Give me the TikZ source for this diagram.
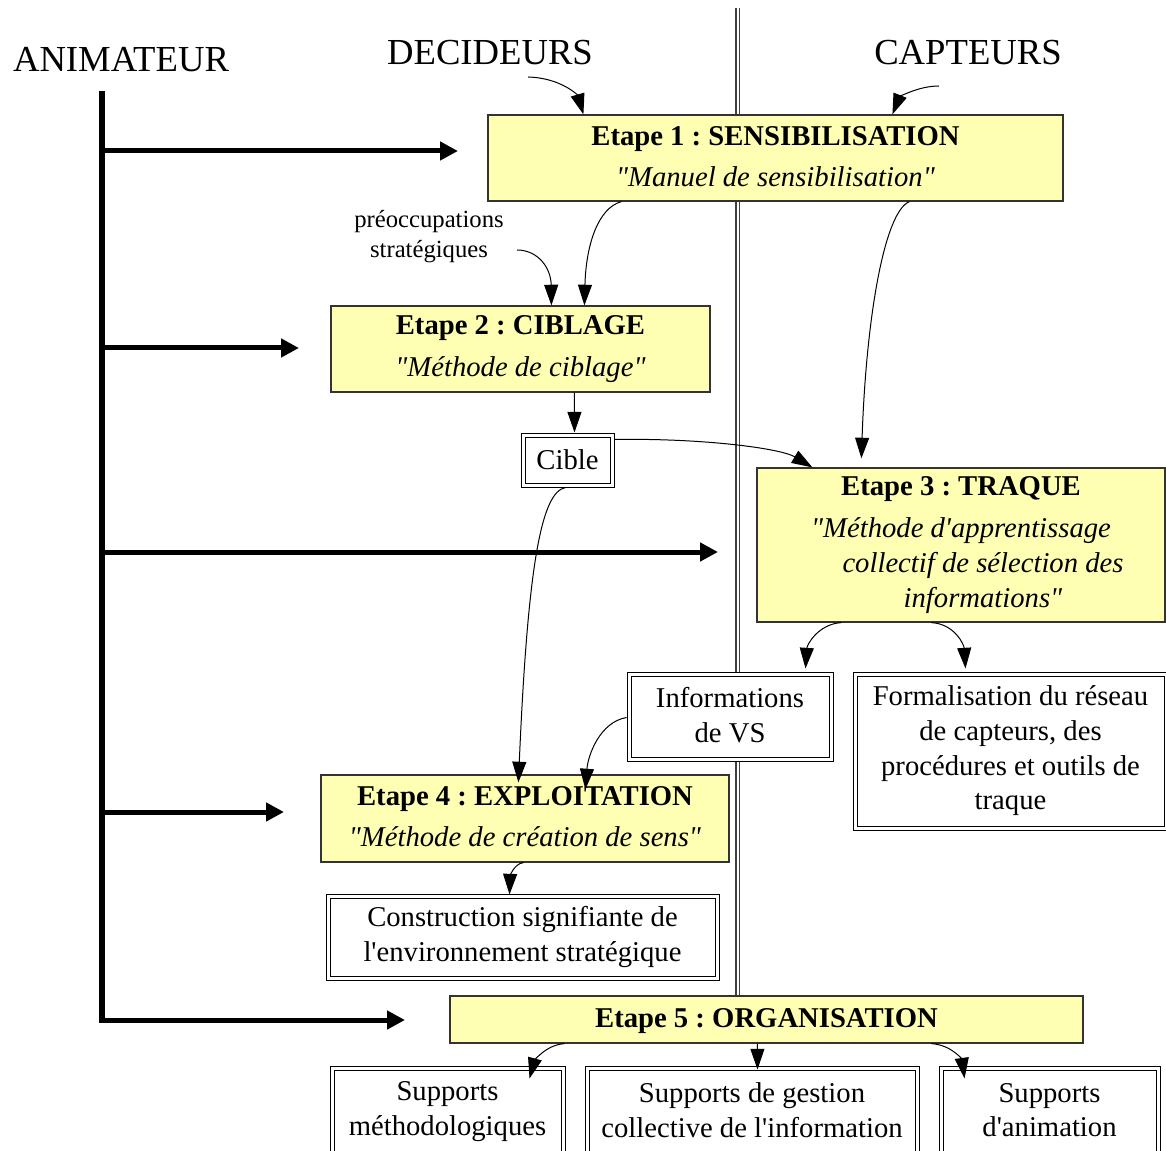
\documentclass[tikz,border=0pt]{standalone}
\usepackage{fontspec}
\setmainfont{Liberation Serif}[Ligatures=TeXOff]
\usetikzlibrary{arrows.meta,calc}
\definecolor{yfill}{RGB}{255,255,179}
\newcommand\myboxfont{\fontsize{21.5}{26}\selectfont\frenchspacing}
\newcommand\mylabfont{\fontsize{27.5}{33}\selectfont}
\newcommand\mysmallfont{\fontsize{18.5}{22.5}\selectfont}
\newcommand\mystrut{\rule[-2.5pt]{0pt}{18.5pt}}
\tikzset{
  ybox/.style={draw=black!80, line width=0.9pt, fill=yfill, inner sep=0pt, align=center, font=\myboxfont,
    execute at begin node={\mystrut}, execute at end node={\mystrut}},
  dbox/.style={draw=black, double=white, double distance=2.25pt, line width=0.75pt, fill=white, inner sep=0pt, align=center, font=\myboxfont,
    execute at begin node={\mystrut}, execute at end node={\mystrut}},
  arr/.style={line width=0.75pt, -{Triangle[length=15.5pt,width=10.5pt]}},
  bigarr/.style={line width=3.75pt, -{Triangle[length=13.5pt,width=13.5pt]}},
  animline/.style={line width=4.5pt},
  sepline/.style={draw=black!75, double=white, double distance=1.5pt, line width=0.8pt},
  lab/.style={font=\mylabfont, inner sep=0pt},
}
\begin{document}
\frenchspacing
\begin{tikzpicture}[x=0.75pt,y=-0.75pt]
\useasboundingbox (0,0) rectangle (1166,1151);
% separator
\coordinate (sep0) at (737.5,8);
\coordinate (sep1) at (737.5,996);
\draw[sepline] (sep0) -- (sep1);

% labels
\node[lab] (anim) at (121,60) {ANIMATEUR};
\node[lab] (dec) at (490,53) {DECIDEURS};
\node[lab] (cap) at (968,53) {CAPTEURS};
\node[font=\mysmallfont, align=center, inner sep=0pt] (preo) at (429,237) {préoccupations\\stratégiques};

% yellow boxes
\node[ybox, minimum width=431.25pt, minimum height=64.5pt] (e1) at (775.5,158)
  {\textbf{Etape 1 : SENSIBILISATION}\\[5pt]\textit{"Manuel de sensibilisation"}};
\node[ybox, minimum width=284.25pt, minimum height=64.5pt] (e2) at (520.5,349)
  {\textbf{Etape 2 : CIBLAGE}\\[5pt]\textit{"Méthode de ciblage"}};
\node[ybox, minimum width=306pt, minimum height=115.5pt] (e3) at (961,545)
  {\textbf{Etape 3 : TRAQUE}\\[5.5pt]\textit{"Méthode d'apprentissage}\\\hspace*{33pt}\textit{collectif de sélection des}\\\hspace*{33pt}\textit{informations"}};
\node[ybox, minimum width=306pt, minimum height=65.25pt] (e4) at (525,818.5)
  {\textbf{Etape 4 : EXPLOITATION}\\[5pt]\textit{"Méthode de création de sens"}};
\node[ybox, minimum width=474.75pt, minimum height=35.25pt] (e5) at (766.5,1019.5)
  {\textbf{Etape 5 : ORGANISATION}};

% double boxes
\node[dbox, minimum width=66.75pt, minimum height=37.5pt] (cible) at (567.5,460) {Cible};
\node[dbox, minimum width=151.5pt, minimum height=63.75pt] (info) at (730,716.5) {Informations\\de VS};
\node[dbox, minimum width=233.25pt, minimum height=115.5pt] (form) at (1010.5,751)
  {Formalisation du réseau\\de capteurs, des\\procédures et outils de\\traque};
\node[dbox, minimum width=291.75pt, minimum height=61.5pt] (constr) at (522.5,937)
  {Construction signifiante de\\l'environnement stratégique};
\node[dbox, minimum width=173.25pt, minimum height=65.25pt] (sm) at (447.5,1111.5)
  {Supports\\méthodologiques};
\node[dbox, minimum width=247.5pt, minimum height=65.25pt] (sg) at (752,1111.5)
  {Supports de gestion\\collective de l'information};
\node[dbox, minimum width=162.75pt, minimum height=65.25pt] (sa) at (1049.5,1111.5)
  {Supports\\d'animation};

% animateur
\coordinate (av0) at (102,91);
\coordinate (av1) at (102,1022.5);
\coordinate (t1) at (458,151);
\coordinate (t2) at (299,348);
\coordinate (t3) at (718,552);
\coordinate (t4) at (284,812);
\coordinate (t5) at (405,1020);
\draw[animline] (av0) -- (av1);
\draw[bigarr] (t1 -| av0) -- (t1);
\draw[bigarr] (t2 -| av0) -- (t2);
\draw[bigarr] (t3 -| av0) -- (t3);
\draw[bigarr] (t4 -| av0) -- (t4);
\draw[bigarr] ([xshift=-1.5pt]t5 -| av0) -- (t5);

% thin connectors
\coordinate (dec0) at (528,77);
\coordinate (cap0) at (939,86);
\coordinate (pre0) at (517,250);
\draw[arr] (dec0) .. controls (562,78) and (578,96) .. ($(e1.north west)+(96,0)$);
\draw[arr] (cap0) .. controls (917,86) and (899,98) .. ($(e1.north west)+(405,0)$);
\draw[arr] ($(e1.south west)+(134,0)$) .. controls (598,208) and (586,245) .. ($(e2.north west)+(254,0)$);
\draw[arr] (pre0) .. controls (538,250) and (551,268) .. ($(e2.north west)+(221,0)$);
\draw[arr] ($(e1.south west)+(422,0)$) .. controls (884,212) and (866,320) .. ($(e3.north west)+(105,-9)$);
\draw[arr] ($(e2.south west)+(244,0)$) -- ($(cible.north west)+(52,-2)$);
\draw[arr] ($(cible.north east)+(2,5)$) .. controls (700,438) and (780,448) .. ($(e3.north west)+(56,0)$);
\draw[arr] ($(cible.south west)+(43,2)$) .. controls (542,492) and (528,560) .. ($(e4.north west)+(198,8)$);
\draw[arr] ($(info.west)+(-2,1)$) .. controls (600,722) and (588,755) .. ($(e4.north west)+(265,15)$);
\draw[arr] ($(e3.south west)+(85,0)$) .. controls (818,624) and (807,645) .. ($(info.north west)+(177,-5)$);
\draw[arr] ($(e3.south west)+(175,0)$) .. controls (955,624) and (964,645) .. ($(form.north west)+(111,-5)$);
\draw[arr] ($(e4.south west)+(203,0)$) .. controls (513,864) and (510,878) .. ($(constr.north west)+(182,-1)$);
\draw[arr] ($(e5.south west)+(115,0)$) .. controls (545,1045) and (534,1062) .. ($(sm.north west)+(198,11)$);
\draw[arr] ($(e5.south west)+(308,0)$) -- ($(sg.north west)+(171,2)$);
\draw[arr] ($(e5.south west)+(482,0)$) .. controls (952,1045) and (962,1060) .. ($(sa.north west)+(24,11)$);
\end{tikzpicture}
\end{document}
